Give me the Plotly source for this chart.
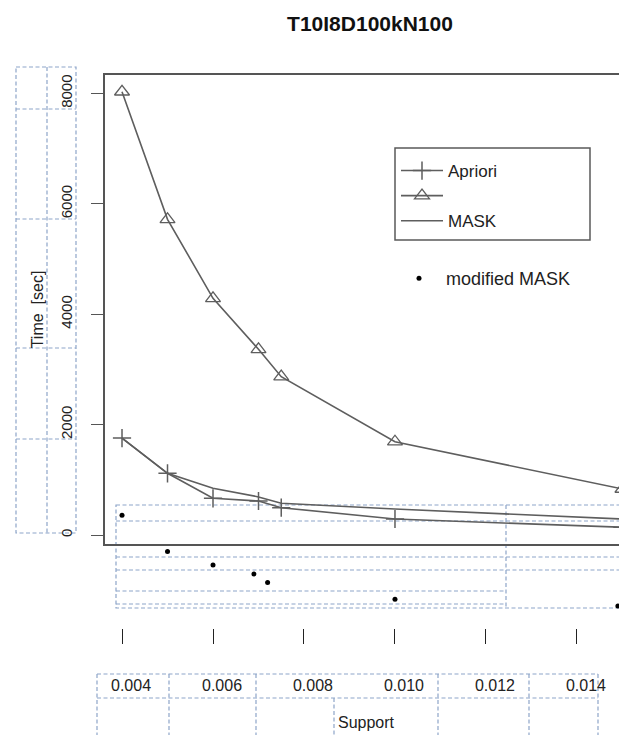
import plotly.graph_objects as go

# ---- data ----
support = [0.004, 0.005, 0.006, 0.007, 0.0075, 0.010, 0.015]
apriori = [1756, 1118, 665, 616, 495, 290, 140]
unnamed_tri = [8030, 5719, 4288, 3364, 2868, 1690, 833]
mask = [1756, 1118, 846, 690, 574, 470, 290]
mod_support = [0.004, 0.005, 0.006, 0.0069, 0.0072, 0.010, 0.0149]
mod_mask = [357, -301, -543, -707, -861, -1165, -1286]

x_ticks = [0.004, 0.006, 0.008, 0.010, 0.012, 0.014]
x_ticktext = ["0.004", "0.006", "0.008", "0.010", "0.012", "0.014"]
y_ticks = [0, 2000, 4000, 6000, 8000]
y_ticktext = ["0", "2000", "4000", "6000", "8000"]

W, H = 627, 735
OFF = 8  # page body margin offset
# plot area in screen pixels: x 105..627, y 75..628 (x tick axis at 628)
ML, MR, MT, MB = 105 - OFF, OFF, 75 - OFF, H - (628 - OFF)
PW, PH = W - ML - MR, H - MT - MB

def px(sx):
    return (sx - OFF - ML) / PW

def py(sy):
    return (H - MB - (sy - OFF)) / PH

Y_RANGE = [-163, 8333]
FRAME_BOTTOM, FRAME_TOP, DOTS_BOTTOM = 544, 75, 614
scale = (FRAME_BOTTOM - FRAME_TOP) / (Y_RANGE[1] - Y_RANGE[0])  # px per unit
Y3_RANGE = [Y_RANGE[0] - (DOTS_BOTTOM - FRAME_BOTTOM) / scale, Y_RANGE[1]]

FONT = "Arial, Liberation Sans, sans-serif"
LINE = "#5e5e5e"
BOX = "#8ea5c9"
DASH = "4px,2.5px"

fig = go.Figure()
fig.add_trace(go.Scatter(x=support, y=apriori, name="Apriori", mode="lines+markers",
                         line=dict(color=LINE, width=1.6),
                         marker=dict(symbol="cross-thin-open", size=13,
                                     line=dict(color="#444", width=1.5))))
fig.add_trace(go.Scatter(x=support, y=unnamed_tri, name=" ", mode="lines+markers",
                         line=dict(color=LINE, width=1.6),
                         marker=dict(symbol="triangle-up-open", size=13,
                                     color=LINE, line=dict(color=LINE, width=1.3))))
fig.add_trace(go.Scatter(x=support, y=mask, name="MASK", mode="lines", xaxis="x2",
                         line=dict(color=LINE, width=1.6)))
fig.add_trace(go.Scatter(x=mod_support, y=mod_mask, name="modified MASK", mode="markers",
                         yaxis="y3", legend="legend2", cliponaxis=False,
                         marker=dict(symbol="circle", size=5, color="black")))

shapes = []

def dline(x0, y0, x1, y1, color=BOX, dash=DASH, width=1.2):
    shapes.append(dict(type="line", xref="paper", yref="paper",
                       x0=px(x0), y0=py(y0), x1=px(x1), y1=py(y1),
                       line=dict(color=color, dash=dash, width=width), layer="below"))

def drect(x0, y0, x1, y1, color=BOX, dash=DASH, width=1.2):
    shapes.append(dict(type="rect", xref="paper", yref="paper",
                       x0=px(x0), y0=py(y0), x1=px(x1), y1=py(y1),
                       line=dict(color=color, dash=dash, width=width), layer="below"))

# left dashed box
drect(16, 67, 76, 533)
dline(47, 67, 47, 533)
for yy in (109, 219, 348, 439):
    dline(16, yy, 76, yy)
# middle dashed box
drect(116, 505, 625, 608)
dline(506, 505, 506, 608)
for yy in (521, 557, 570):
    dline(116, yy, 625, yy)
for yy in (591, 604):
    dline(116, yy, 506, yy)
# bottom dashed box
dline(97, 674, 598, 674)
dline(97, 698, 598, 698)
for xx in (97, 169, 256, 438, 529, 598):
    dline(xx, 674, xx, 745)
dline(334, 698, 334, 745)
# legend frame
shapes.append(dict(type="rect", xref="paper", yref="paper",
                   x0=px(395), y0=py(148), x1=px(590), y1=py(240),
                   line=dict(color="#5a5a5a", width=1.5)))

fig.update_layout(
    width=W, height=H,
    margin=dict(l=ML, r=MR, t=MT, b=MB),
    paper_bgcolor="white", plot_bgcolor="rgba(0,0,0,0)",
    font=dict(family=FONT, size=15, color="#222"),
    title=dict(text="<b>T10I8D100kN100</b>", x=(370 - OFF) / W, xref="container",
               xanchor="center", y=1 - (24 - OFF) / H, yref="container", yanchor="middle",
               font=dict(size=21, color="#111")),
    showlegend=True,
    legend=dict(x=px(396), y=py(153), xanchor="left", yanchor="top",
                bgcolor="rgba(0,0,0,0)", borderwidth=0, font=dict(size=17),
                itemwidth=42, tracegroupgap=0),
    legend2=dict(x=px(392), y=py(260), xanchor="left", yanchor="top",
                 bgcolor="rgba(0,0,0,0)", borderwidth=0, font=dict(size=18),
                 itemwidth=44),
    xaxis=dict(range=[0.003626, 0.0151], domain=[0, 1], anchor="y",
               showline=True, linecolor="#555", linewidth=1.5, mirror=True,
               ticks="", showticklabels=False, showgrid=False, zeroline=False),
    xaxis2=dict(matches="x", overlaying="x", anchor="free", position=0, side="bottom",
                showline=False, showgrid=False, zeroline=False,
                tickmode="array", tickvals=x_ticks, ticktext=x_ticktext,
                ticks="outside", ticklen=15, tickwidth=1.3, tickcolor="#222",
                ticklabelstandoff=28, ticklabelshift=9,
                tickfont=dict(size=16),
                title=dict(text="Support", standoff=23, font=dict(size=16))),
    yaxis=dict(range=Y_RANGE, domain=[py(FRAME_BOTTOM), 1],
               showline=True, linecolor="#555", linewidth=1.5, mirror=False,
               tickmode="array", tickvals=y_ticks, ticktext=y_ticktext,
               ticks="outside", ticklen=12, tickwidth=1.3, tickcolor="#555",
               tickangle=-90, ticklabelstandoff=13, tickfont=dict(size=15),
               showgrid=False, zeroline=False,
               title=dict(text="Time\u00a0 [sec]", standoff=11, font=dict(size=16))),
    yaxis3=dict(range=Y3_RANGE, domain=[py(DOTS_BOTTOM), 1], anchor="x",
                visible=False, showgrid=False, zeroline=False),
    shapes=shapes,
)

fig.write_html("out.html")
